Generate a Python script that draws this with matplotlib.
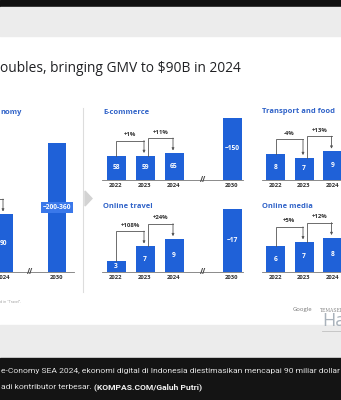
import matplotlib.pyplot as plt
from matplotlib.patches import Rectangle, Polygon
from matplotlib.lines import Line2D

plt.rcParams['font.family'] = ['Open Sans', 'DejaVu Sans']

W, H = 341, 400
BLUE = '#1f61d8'
TITLE_BLUE = '#2f62c8'

# data
total_years = ['2024', '2030']
total_pos = [2, 4]
total_vals = [90, 200]
total_labels = ['90', '~200-360']

ecom_years = ['2022', '2023', '2024', '2030']
ecom_vals = [58, 59, 65, 150]
ecom_labels = ['58', '59', '65', '~150']
ecom_changes = [('+1%', 0, 1), ('+11%', 1, 2)]

travel_years = ['2022', '2023', '2024', '2030']
travel_vals = [3, 7, 9, 17]
travel_labels = ['3', '7', '9', '~17']
travel_changes = [('+108%', 0, 1), ('+24%', 1, 2)]

transport_years = ['2022', '2023', '2024']
transport_vals = [8, 7, 9]
transport_labels = ['8', '7', '9']
transport_changes = [('-4%', 0, 1), ('+13%', 1, 2)]

media_years = ['2022', '2023', '2024']
media_vals = [6, 7, 8]
media_labels = ['6', '7', '8']
media_changes = [('+5%', 0, 1), ('+12%', 1, 2)]

small_pos = [0, 1, 2, 4]

fig = plt.figure(figsize=(W / 100, H / 100), dpi=100)
fig.patch.set_facecolor('white')


def fx(x):
    return x / W


def fy(y):
    return 1 - y / H


def box(x0, y0, x1, y1):
    return [x0 / W, 1 - y1 / H, (x1 - x0) / W, (y1 - y0) / H]


# page bands
for y0, y1, c in [(0, 7, '#111111'), (7, 36, '#ececec'), (325, 358, '#ececec'), (358, 400, '#141414')]:
    fig.patches.append(Rectangle((0, fy(y1)), 1, (y1 - y0) / H, transform=fig.transFigure,
                                 color=c, zorder=0))


def draw_panel(c0, step, base, ppu, x_start, x_end, pos, vals, labels, years, changes,
               bar_w=19, boxed=None):
    ax = fig.add_axes(box(x_start, base - 150, x_end, base))
    ax.set_xlim((x_start - c0) / step, (x_end - c0) / step)
    ax.set_ylim(0, 150 / ppu)
    ax.set_facecolor('none')
    for s in ['top', 'left', 'right']:
        ax.spines[s].set_visible(False)
    ax.spines['bottom'].set_color('#777777')
    ax.spines['bottom'].set_linewidth(0.6)
    ax.set_yticks([])
    ax.set_xticks(pos, years)
    ax.tick_params(axis='x', length=0, pad=2.5, labelsize=4.2, labelcolor='#333333')
    for t in ax.get_xticklabels():
        t.set_fontweight('bold')
    ax.bar(pos, vals, width=bar_w / step, color=BLUE, zorder=2)
    for p, v, lab in zip(pos, vals, labels):
        kw = {}
        if lab == boxed:
            kw['bbox'] = dict(boxstyle='square,pad=0.25', fc='#3a78ea', ec='none')
        ax.text(p, v / 2, lab, color='white', fontsize=4.8, fontweight='bold',
                ha='center', va='center', zorder=3, **kw)
    if 4 in pos:
        ax.text(3, 0, '//', fontsize=5.5, color='#444444', ha='center', va='center',
                fontweight='bold', zorder=3)

    dy = 1 / ppu
    dx = 1 / step
    top_of = dict(zip(pos, vals))
    for lab, a, b in changes:
        tops = [top_of[k] for k in (a, b) if k in top_of]
        y_top = max(tops) + 15 * dy
        xa = a + (3 * dx if a > 0 else 0)
        xb = b - 1 * dx
        ya = top_of.get(a, y_top)
        ax.plot([xa, xa, xb], [ya, y_top, y_top], color='#555555', lw=0.6,
                solid_joinstyle='miter', clip_on=False, zorder=3)
        ax.annotate('', xy=(xb, top_of[b] + 2.5 * dy), xytext=(xb, y_top),
                    arrowprops=dict(arrowstyle='-|>', color='#555555', lw=0.6,
                                    mutation_scale=3.5, shrinkA=0, shrinkB=0),
                    annotation_clip=False)
        if lab:
            ax.text((xa + xb) / 2, y_top + 6 * dy, lab, fontsize=4.3, fontweight='bold',
                    color='#333333', ha='center', va='center')
    return ax


# left "digital economy" panel (cut by the crop)
draw_panel(-49, 26.5, 272, 0.644, -80, 74, total_pos, total_vals, total_labels,
           total_years, [('', 1, 2)], bar_w=18, boxed='~200-360')
fig.text(fx(0), fy(112), 'nomy', fontsize=5.4, fontweight='bold', color=TITLE_BLUE, va='center')

draw_panel(116, 29, 180, 0.415, 102, 243, small_pos, ecom_vals, ecom_labels,
           ecom_years, ecom_changes)
fig.text(fx(103), fy(112), 'E-commerce', fontsize=5.4, fontweight='bold', color=TITLE_BLUE, va='center')

draw_panel(116, 29, 272, 3.7, 102, 243, small_pos, travel_vals, travel_labels,
           travel_years, travel_changes)
fig.text(fx(103), fy(206), 'Online travel', fontsize=5.4, fontweight='bold', color=TITLE_BLUE, va='center')

draw_panel(275.5, 28.5, 180, 3.2, 262, 345, small_pos[:3], transport_vals, transport_labels,
           transport_years, transport_changes)
fig.text(fx(262), fy(111), 'Transport and food', fontsize=5.4, fontweight='bold', color=TITLE_BLUE, va='center')

draw_panel(275.5, 28.5, 272, 4.3, 262, 345, small_pos[:3], media_vals, media_labels,
           media_years, media_changes)
fig.text(fx(262), fy(206), 'Online media', fontsize=5.4, fontweight='bold', color=TITLE_BLUE, va='center')

# divider and chevron
fig.add_artist(Line2D([fx(83), fx(83)], [fy(108), fy(292)], color='#dddddd', lw=0.8))
fig.patches.append(Polygon([(fx(85), fy(191)), (fx(92), fy(198.5)), (fx(85), fy(206))],
                           closed=True, transform=fig.transFigure, color='#d3d3d3'))

# headline
fig.text(fx(0), fy(68), 'oubles, bringing GMV to $90B in 2024', fontsize=9.9,
         color='#202124', va='center')

# footnote and logos
fig.text(fx(0), fy(302), 'd in "Travel".', fontsize=2.6, color='#999999', va='center')
fig.text(fx(293), fy(310), 'Google', fontsize=4.2, color='#777777', va='center')
fig.text(fx(320), fy(310), 'TEMASEK', fontsize=3.3, color='#888888', va='center',
         family='DejaVu Serif')
fig.text(fx(322), fy(321), 'Ha', fontsize=13, color='#a9b2bb', va='center')
fig.add_artist(Line2D([fx(322), fx(341)], [fy(331), fy(331)], color='#c0c0c0', lw=0.6))

# caption
cap_font = ['Roboto', 'DejaVu Sans']
fig.text(fx(1), fy(371), 'e-Conomy SEA 2024, ekonomi digital di Indonesia diestimasikan mencapai 90 miliar dollar',
         fontsize=6.1, color='#e0e0e0', va='center', family=cap_font)
t1 = fig.text(fx(1), fy(387), 'adi kontributor terbesar. ', fontsize=6.1, color='#e0e0e0',
              va='center', family=cap_font)
fig.canvas.draw()
ext = t1.get_window_extent()
fig.text(ext.x1 / fig.dpi / fig.get_size_inches()[0], fy(387), '(KOMPAS.COM/Galuh Putri)',
         fontsize=6.1, color='#f2f2f2', va='center', fontweight='bold', family=cap_font)

fig.savefig('out.png', dpi=100)
